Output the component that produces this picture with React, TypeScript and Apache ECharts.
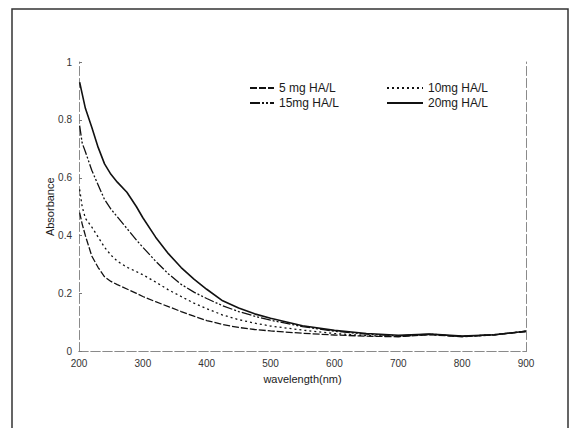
import React, { useEffect, useRef } from "react";
import * as echarts from "echarts";

const wavelengths = [201, 205, 210, 220, 230, 240, 250, 260, 275, 290, 300, 320, 340, 360, 380, 400, 425, 450, 475, 500, 550, 600, 650, 700, 750, 800, 850, 900];

const mg5 = [0.48, 0.44, 0.40, 0.33, 0.29, 0.258, 0.242, 0.231, 0.216, 0.201, 0.19, 0.172, 0.155, 0.138, 0.122, 0.107, 0.093, 0.083, 0.076, 0.071, 0.063, 0.057, 0.053, 0.051, 0.058, 0.051, 0.057, 0.069];
const mg10 = [0.56, 0.5, 0.46, 0.43, 0.395, 0.36, 0.333, 0.312, 0.291, 0.276, 0.265, 0.24, 0.213, 0.19, 0.167, 0.148, 0.126, 0.11, 0.098, 0.088, 0.074, 0.062, 0.055, 0.052, 0.059, 0.052, 0.058, 0.07];
const mg15 = [0.78, 0.72, 0.69, 0.626, 0.575, 0.525, 0.492, 0.465, 0.425, 0.385, 0.36, 0.312, 0.268, 0.232, 0.205, 0.183, 0.158, 0.138, 0.122, 0.108, 0.086, 0.07, 0.06, 0.054, 0.06, 0.052, 0.058, 0.07];
const mg20 = [0.93, 0.89, 0.84, 0.775, 0.705, 0.648, 0.612, 0.585, 0.55, 0.5, 0.462, 0.395, 0.338, 0.29, 0.25, 0.215, 0.175, 0.15, 0.13, 0.115, 0.089, 0.073, 0.062, 0.056, 0.06, 0.053, 0.058, 0.07];

const seriesNames = ["5 mg HA/L", "10mg HA/L", "15mg HA/L", "20mg HA/L"];
const xTicks = [200, 300, 400, 500, 600, 700, 800, 900];
const yTicks = [0, 0.2, 0.4, 0.6, 0.8, 1];

const FONT = "Liberation Sans, Arial, sans-serif";
const INK = "#1a1a1a";

export default function App() {
  const ref = useRef<HTMLDivElement>(null);
  useEffect(() => {
    if (!ref.current) return;
    document.body.style.margin = "0";
    const chart = echarts.init(ref.current, null, { renderer: "svg" });
    const zip = (vals: number[]) => wavelengths.map((w, i) => [w, vals[i]]);
    const dashes: (number[] | string)[] = [[7, 2], [2, 3], [10, 2, 2, 2, 2, 2], "solid"];
    const values = [mg5, mg10, mg15, mg20];
    const axisLineStyle = { color: "#8a8a8a", width: 1, type: [9, 3] as any };
    const legendCommon = {
      orient: "vertical",
      top: 77,
      itemGap: 3,
      itemHeight: 12,
      itemStyle: { opacity: 0 },
      textStyle: { fontSize: 12, color: INK, fontFamily: FONT },
    };
    chart.setOption({
      animation: false,
      backgroundColor: "#fff",
      textStyle: { fontFamily: FONT },
      grid: { left: 79, right: 53, top: 62, bottom: 76.5 },
      graphic: [
        {
          type: "rect",
          shape: { x: 12, y: 9, width: 556, height: 440 },
          style: { fill: "none", stroke: "#333", lineWidth: 1.5 },
          silent: true,
        },
      ],
      legend: [
        { ...legendCommon, data: [seriesNames[0], seriesNames[2]], left: 244, itemWidth: 24 },
        { ...legendCommon, data: [seriesNames[1], seriesNames[3]], left: 381, itemWidth: 36 },
      ],
      xAxis: [
        {
          type: "value",
          min: 200,
          max: 900,
          interval: 100,
          name: "wavelength(nm)",
          nameLocation: "middle",
          nameGap: 21,
          nameTextStyle: { fontSize: 11, color: INK, fontFamily: FONT },
          axisLine: { show: true, lineStyle: axisLineStyle },
          axisTick: { show: false },
          splitLine: { show: false },
          axisLabel: {
            fontSize: 10,
            color: "#333",
            margin: 7,
            fontFamily: FONT,
            formatter: (v: number) => (xTicks.includes(v) ? String(v) : ""),
          },
        },
        {
          type: "value",
          position: "top",
          min: 200,
          max: 900,
          interval: 100,
          axisLine: { show: true, lineStyle: axisLineStyle },
          axisTick: { show: false },
          axisLabel: { show: false },
          splitLine: { show: false },
        },
      ],
      yAxis: [
        {
          type: "value",
          min: 0,
          max: 1,
          interval: 0.2,
          name: "Absorbance",
          nameLocation: "middle",
          nameGap: 24,
          nameMoveOverlap: false,
          nameRotate: 90,
          nameTextStyle: { fontSize: 11, color: INK, fontFamily: FONT },
          axisLine: { show: true, lineStyle: axisLineStyle },
          axisTick: { show: true, inside: true, length: 3, lineStyle: { color: "#777" } },
          splitLine: { show: false },
          axisLabel: {
            fontSize: 10,
            color: "#333",
            margin: 7,
            fontFamily: FONT,
            formatter: (v: number) => {
              const t = yTicks.find((y) => Math.abs(y - v) < 1e-6);
              return t === undefined ? "" : String(t);
            },
          },
        },
        {
          type: "value",
          position: "right",
          min: 0,
          max: 1,
          interval: 0.2,
          axisLine: { show: true, lineStyle: axisLineStyle },
          axisTick: { show: false },
          axisLabel: { show: false },
          splitLine: { show: false },
        },
      ],
      series: values.map((vals, i) => ({
        name: seriesNames[i],
        type: "line",
        data: zip(vals),
        showSymbol: false,
        symbol: "none",
        smooth: false,
        xAxisIndex: 0,
        yAxisIndex: 0,
        lineStyle: { color: "#111", width: i === 3 ? 1.6 : 1.3, type: dashes[i] as any },
        itemStyle: { color: "#111" },
      })),
    });
    return () => chart.dispose();
  }, []);
  return (
    <div
      ref={ref}
      style={{ position: "absolute", left: 0, top: 0, width: 579, height: 428, background: "#fff" }}
    />
  );
}
